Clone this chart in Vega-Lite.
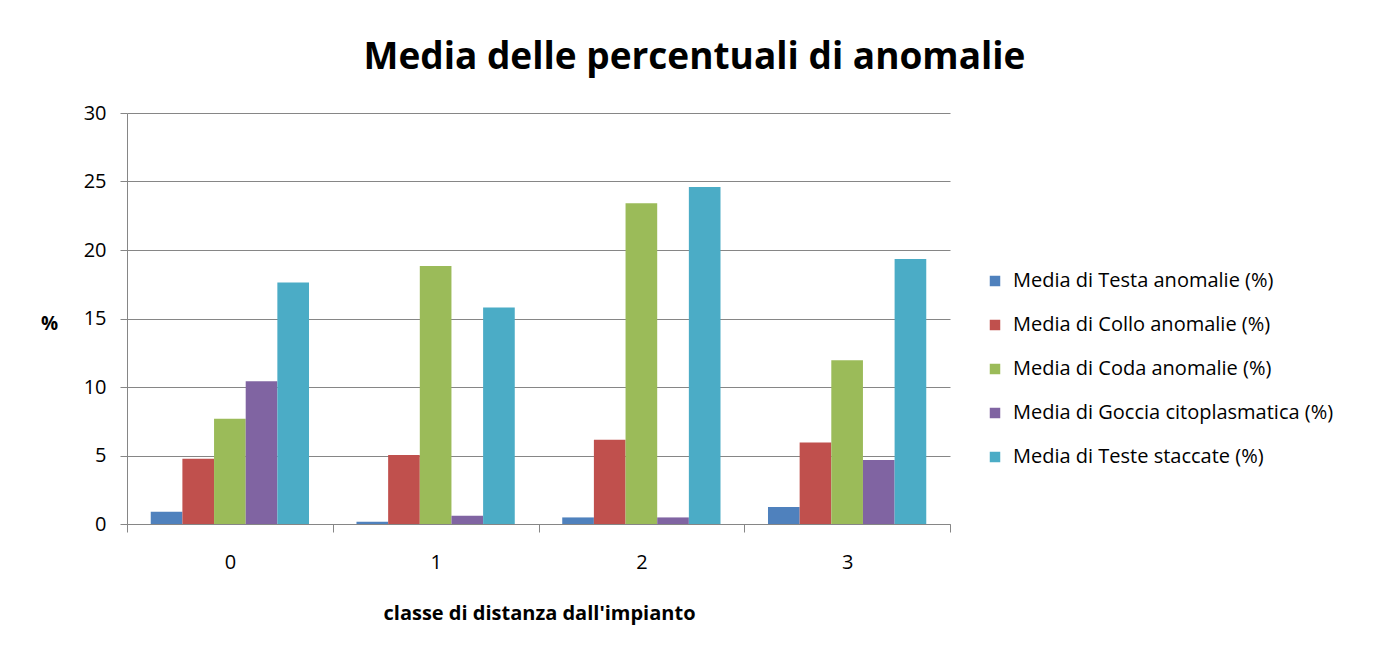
{
  "$schema": "https://vega.github.io/schema/vega-lite/v6.json",
  "width": 823,
  "height": 411,
  "autosize": "none",
  "padding": {"left": 127, "top": 113, "right": 438, "bottom": 129},
  "background": "white",
  "title": {
    "text": "Media delle percentuali di anomalie",
    "font": "Open Sans",
    "fontSize": 37,
    "fontWeight": "bold",
    "color": "#000000",
    "anchor": "middle",
    "frame": "group",
    "dx": 156,
    "offset": 26
  },
  "data": {
    "values": [
      {"classe": "0", "serie": "Media di Testa anomalie (%)", "valore": 0.90},
      {"classe": "0", "serie": "Media di Collo anomalie (%)", "valore": 4.77},
      {"classe": "0", "serie": "Media di Coda anomalie (%)", "valore": 7.68},
      {"classe": "0", "serie": "Media di Goccia citoplasmatica (%)", "valore": 10.42},
      {"classe": "0", "serie": "Media di Teste staccate (%)", "valore": 17.62},
      {"classe": "1", "serie": "Media di Testa anomalie (%)", "valore": 0.17},
      {"classe": "1", "serie": "Media di Collo anomalie (%)", "valore": 5.04},
      {"classe": "1", "serie": "Media di Coda anomalie (%)", "valore": 18.83},
      {"classe": "1", "serie": "Media di Goccia citoplasmatica (%)", "valore": 0.61},
      {"classe": "1", "serie": "Media di Teste staccate (%)", "valore": 15.80},
      {"classe": "2", "serie": "Media di Testa anomalie (%)", "valore": 0.48},
      {"classe": "2", "serie": "Media di Collo anomalie (%)", "valore": 6.15},
      {"classe": "2", "serie": "Media di Coda anomalie (%)", "valore": 23.41},
      {"classe": "2", "serie": "Media di Goccia citoplasmatica (%)", "valore": 0.48},
      {"classe": "2", "serie": "Media di Teste staccate (%)", "valore": 24.59},
      {"classe": "3", "serie": "Media di Testa anomalie (%)", "valore": 1.24},
      {"classe": "3", "serie": "Media di Collo anomalie (%)", "valore": 5.94},
      {"classe": "3", "serie": "Media di Coda anomalie (%)", "valore": 11.95},
      {"classe": "3", "serie": "Media di Goccia citoplasmatica (%)", "valore": 4.68},
      {"classe": "3", "serie": "Media di Teste staccate (%)", "valore": 19.34}
    ]
  },
  "mark": {"type": "bar"},
  "encoding": {
    "x": {
      "field": "classe",
      "type": "nominal",
      "scale": {"paddingInner": 0, "paddingOuter": 0},
      "axis": {
        "title": "classe di distanza dall'impianto",
        "titleFont": "Open Sans",
        "titleFontSize": 20,
        "titleFontWeight": "bold",
        "titleColor": "#000000",
        "titleX": 412,
        "titleY": 89,
        "titleBaseline": "middle",
        "labelAngle": 0,
        "labelFont": "Open Sans",
        "labelFontSize": 20,
        "labelColor": "#000000",
        "labelPadding": 20,
        "tickBand": "extent",
        "tickSize": 8,
        "tickColor": "#868686",
        "domainColor": "#868686",
        "grid": false
      }
    },
    "xOffset": {
      "field": "serie",
      "type": "nominal",
      "sort": [
        "Media di Testa anomalie (%)",
        "Media di Collo anomalie (%)",
        "Media di Coda anomalie (%)",
        "Media di Goccia citoplasmatica (%)",
        "Media di Teste staccate (%)"
      ],
      "scale": {"paddingInner": 0, "paddingOuter": 0.75}
    },
    "y": {
      "field": "valore",
      "type": "quantitative",
      "scale": {"domain": [0, 30], "nice": false},
      "axis": {
        "title": "%",
        "titleAngle": 0,
        "titleFont": "Open Sans",
        "titleFontSize": 19,
        "titleFontWeight": "bold",
        "titleColor": "#000000",
        "titleX": -78,
        "titleY": 210,
        "titleAlign": "center",
        "titleBaseline": "middle",
        "values": [0, 5, 10, 15, 20, 25, 30],
        "labelFont": "Open Sans",
        "labelFontSize": 20,
        "labelColor": "#000000",
        "labelPadding": 14,
        "tickSize": 7,
        "tickColor": "#868686",
        "domainColor": "#868686",
        "grid": true,
        "gridColor": "#868686",
        "gridOpacity": 1
      }
    },
    "color": {
      "field": "serie",
      "type": "nominal",
      "scale": {
        "domain": [
          "Media di Testa anomalie (%)",
          "Media di Collo anomalie (%)",
          "Media di Coda anomalie (%)",
          "Media di Goccia citoplasmatica (%)",
          "Media di Teste staccate (%)"
        ],
        "range": ["#4F81BD", "#C0504D", "#9BBB59", "#8064A2", "#4BACC6"]
      },
      "legend": {
        "title": null,
        "orient": "none",
        "legendX": 858,
        "legendY": 158,
        "symbolType": "square",
        "symbolSize": 110,
        "symbolStrokeWidth": 0,
        "labelFont": "Open Sans",
        "labelFontSize": 20,
        "labelColor": "#000000",
        "labelLimit": 450,
        "labelOffset": 8,
        "rowPadding": 24
      }
    }
  },
  "config": {
    "view": {"stroke": null}
  }
}
